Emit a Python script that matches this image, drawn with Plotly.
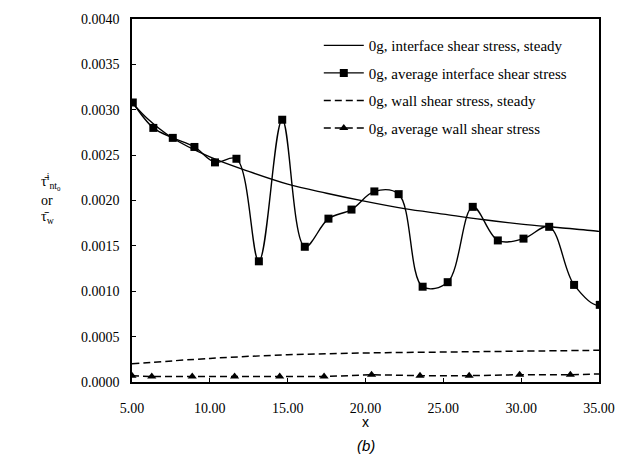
import plotly.graph_objects as go

# steady interface shear stress
x_int_steady = [5.0, 6.0, 7.5, 10.0, 12.5, 15.0, 17.5, 20.0, 22.5, 25.0, 27.5, 30.0, 32.5, 35.0, 35.3]
y_int_steady = [0.00308, 0.00290, 0.00270, 0.00248, 0.00232, 0.00218, 0.00208, 0.00199, 0.00191, 0.00185, 0.00179, 0.00174, 0.00170, 0.00166, 0.00165]

# average interface shear stress (markers)
x_int_avg = [5.05, 6.37, 7.62, 9.01, 10.33, 11.71, 13.15, 14.65, 16.1, 17.62, 19.1,
             20.57, 22.13, 23.67, 25.28, 26.89, 28.5, 30.15, 31.8, 33.4, 35.05, 35.9]
y_int_avg = [0.00308, 0.00280, 0.00269, 0.00259, 0.00242, 0.00246, 0.00133, 0.00289, 0.00149,
             0.00180, 0.00190, 0.00210, 0.00207, 0.00105, 0.00110, 0.00193, 0.00156, 0.00158,
             0.00171, 0.00107, 0.00085, 0.00220]

# steady wall shear stress
x_wall_steady = [5.0, 10.0, 15.0, 20.0, 25.0, 30.0, 35.3]
y_wall_steady = [0.00020, 0.00026, 0.00030, 0.00032, 0.00033, 0.00034, 0.00035]

# average wall shear stress (markers)
x_wall_avg = [5.0, 6.27, 8.87, 11.59, 14.49, 17.34, 20.39, 23.5, 26.66, 29.9, 33.16, 35.3]
y_wall_avg = [0.00007, 0.00006, 0.00006, 0.00006, 0.00006, 0.00006, 0.00008, 0.00007, 0.00007, 0.00008, 0.00008, 0.00009]

x_ticks = [5, 10, 15, 20, 25, 30, 35]
x_tick_labels = ["5.00", "10.00", "15.00", "20.00", "25.00", "30.00", "35.00"]
y_ticks = [0.0, 0.0005, 0.001, 0.0015, 0.002, 0.0025, 0.003, 0.0035, 0.004]
y_tick_labels = ["0.0000", "0.0005", "0.0010", "0.0015", "0.0020", "0.0025", "0.0030", "0.0035", "0.0040"]

serif = "Liberation Serif"
dash = "7px,4px"
fig = go.Figure()
fig.add_trace(go.Scatter(x=x_int_steady, y=y_int_steady, mode="lines",
                         line=dict(color="black", width=1.4, shape="spline"),
                         name="0g, interface shear stress, steady", legendgroup="a"))
fig.add_trace(go.Scatter(x=x_int_avg, y=y_int_avg, mode="lines+markers",
                         line=dict(color="black", width=1.4, shape="spline", smoothing=1.0),
                         marker=dict(symbol="square", size=8, color="black"),
                         name="0g, average interface shear stress", legendgroup="b"))
fig.add_trace(go.Scatter(x=x_wall_steady, y=y_wall_steady, mode="lines",
                         line=dict(color="black", width=1.5, dash=dash, shape="spline"),
                         name="0g, wall shear stress, steady", legendgroup="c"))
fig.add_trace(go.Scatter(x=x_wall_avg, y=y_wall_avg, mode="lines+markers",
                         line=dict(color="black", width=1.5, dash=dash),
                         marker=dict(symbol="triangle-up", size=8, color="black"),
                         name="0g, average wall shear stress", legendgroup="d"))

fig.update_xaxes(range=[5, 35], tickvals=x_ticks, ticktext=x_tick_labels,
                 showline=True, linecolor="black", linewidth=1.5, mirror=True,
                 ticks="inside", ticklen=4, tickcolor="black", showgrid=False,
                 zeroline=False, ticklabelstandoff=12,
                 tickfont=dict(family=serif, size=14, color="black"))
fig.update_yaxes(range=[0, 0.004], tickvals=y_ticks, ticktext=y_tick_labels,
                 showline=True, linecolor="black", linewidth=1.5, mirror=True,
                 ticks="inside", ticklen=4, tickcolor="black", showgrid=False,
                 zeroline=False, ticklabelstandoff=8,
                 tickfont=dict(family=serif, size=14, color="black"))

ylab_x = -0.2
fig.add_annotation(xref="paper", yref="paper", x=ylab_x, y=0.553, xanchor="left",
                   text="τ̄<sup>i</sup><sub>nt<sub>0</sub></sub>", showarrow=False,
                   font=dict(family=serif, size=14, color="black"))
fig.add_annotation(xref="paper", yref="paper", x=ylab_x, y=0.5, xanchor="left",
                   text="or", showarrow=False, font=dict(family=serif, size=14, color="black"))
fig.add_annotation(xref="paper", yref="paper", x=ylab_x, y=0.452, xanchor="left",
                   text="τ̄<sub>w</sub>", showarrow=False,
                   font=dict(family=serif, size=14, color="black"))
fig.add_annotation(xref="paper", yref="paper", x=0.5, y=-0.109, yanchor="middle",
                   text="x", showarrow=False,
                   font=dict(family="Liberation Sans", size=14, color="black"))
fig.add_annotation(xref="paper", yref="paper", x=0.5, y=-0.174, yanchor="middle",
                   text="<i>(b)</i>", showarrow=False,
                   font=dict(family="Liberation Sans", size=15, color="black"))

fig.update_layout(width=627, height=463, margin=dict(l=132, r=26, t=14, b=81),
                  paper_bgcolor="white", plot_bgcolor="white",
                  legend=dict(x=0.40, y=0.972, xanchor="left", yanchor="top",
                              bgcolor="rgba(0,0,0,0)", itemwidth=40, tracegroupgap=5,
                              font=dict(family=serif, size=15, color="black")))
fig.write_html("out.html")
